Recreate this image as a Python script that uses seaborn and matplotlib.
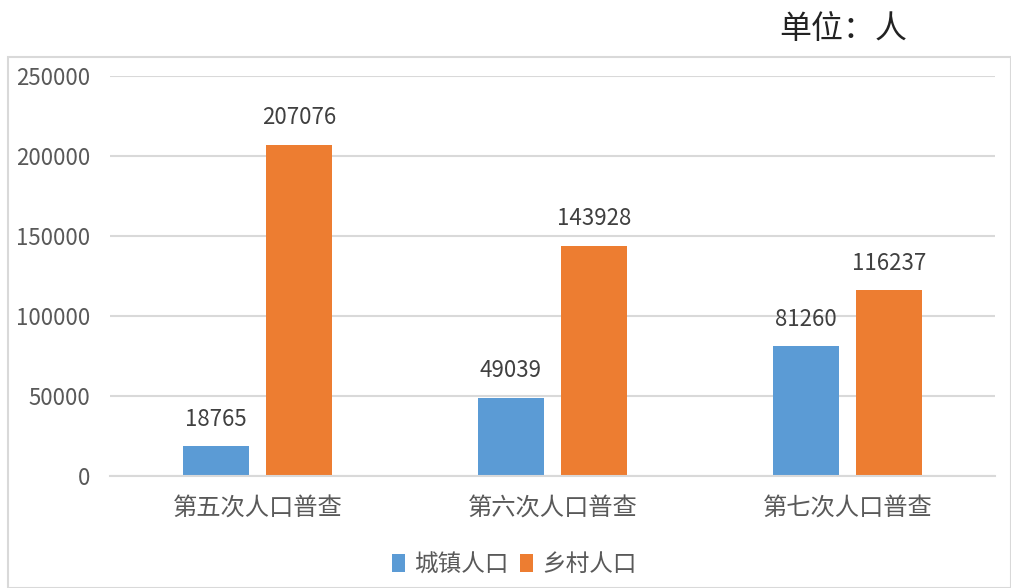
import matplotlib
matplotlib.use("Agg")
import matplotlib.pyplot as plt
import matplotlib.patches as mpatches
import seaborn as sns
import pandas as pd

categories = ["第五次人口普查", "第六次人口普查", "第七次人口普查"]
series_names = ["城镇人口", "乡村人口"]
urban = [18765, 49039, 81260]
rural = [207076, 143928, 116237]
yticks = [0, 50000, 100000, 150000, 200000, 250000]
colors = ["#5B9BD5", "#ED7D31"]

df = pd.DataFrame({
    "cat": categories * 2,
    "series": [series_names[0]] * 3 + [series_names[1]] * 3,
    "value": urban + rural,
})

sns.set_theme(style="white")
plt.rcParams['font.family'] = ['Noto Sans CJK SC', 'DejaVu Sans']

fig = plt.figure(figsize=(10.11, 5.88), dpi=100)
ax = fig.add_axes([110 / 1011, 1 - 476 / 588, 885 / 1011, 400 / 588])

sns.barplot(data=df, x="cat", y="value", hue="series", hue_order=series_names,
            order=categories, palette=colors, width=0.563, gap=0.2,
            saturation=1, linewidth=0, ax=ax, legend=True)

ax.set_ylim(0, 250000)
ax.set_xlim(-0.5, 2.5)
ax.set_yticks(yticks)
ax.set_yticklabels([str(v) for v in yticks], color="#595959", fontsize=16)
ax.yaxis.grid(True, color="#D9D9D9", linewidth=1.5)
ax.set_axisbelow(True)
for s in ["left", "right", "top"]:
    ax.spines[s].set_visible(False)
ax.spines["bottom"].set_color("#D9D9D9")
ax.spines["bottom"].set_linewidth(1.5)
ax.tick_params(axis="y", length=0, pad=14)
ax.tick_params(axis="x", length=0, pad=14, labelsize=17.5, labelcolor="#595959")
ax.set_xlabel("")
ax.set_ylabel("")

for cont in ax.containers:
    ax.bar_label(cont, fmt="%d", padding=11, fontsize=16, color="#404040")

leg = ax.legend(loc="upper center", bbox_to_anchor=(0.457, -0.14), ncol=2,
                frameon=False, fontsize=17, handlelength=0.55, handleheight=0.8,
                handletextpad=0.4, columnspacing=0.5)
for t in leg.get_texts():
    t.set_color("#595959")

border = mpatches.Rectangle((8 / 1011, 0), 1 - 8 / 1011, 1 - 57 / 588,
                            transform=fig.transFigure, fill=False,
                            edgecolor="#D9D9D9", linewidth=1.5)
fig.patches.append(border)

fig.text(843 / 1011, 1 - 29 / 588, "单位：人", ha="center", va="center",
         fontsize=23, color="#222222", fontweight="light")

fig.savefig("out.png", dpi=100)
